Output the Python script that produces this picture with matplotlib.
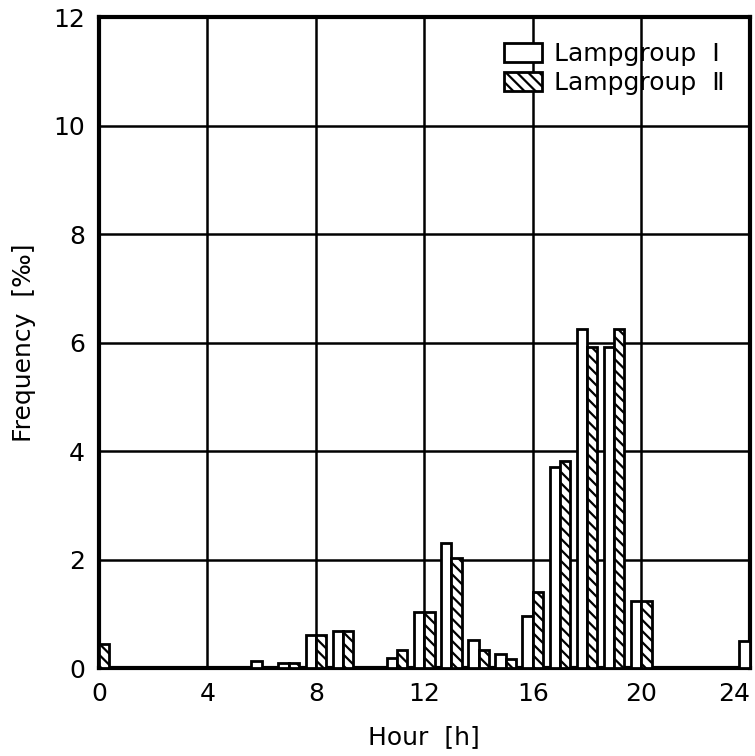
import matplotlib
matplotlib.use('Agg')
import matplotlib.pyplot as plt
import numpy as np

plt.rcParams['font.family'] = ['DejaVu Sans']
plt.rcParams['hatch.linewidth'] = 1.6

# stunden (0..24, 24 = wrap of 0)
horas_g1 = [6, 7, 8, 9, 11, 12, 13, 14, 15, 16, 17, 18, 19, 20, 24]
valores_g1 = [0.13, 0.1, 0.6, 0.68, 0.18, 1.03, 2.3, 0.52, 0.25, 0.95, 3.7, 6.25, 5.92, 1.24, 0.5]

horas_g2 = [0, 7, 8, 9, 11, 12, 13, 14, 15, 16, 17, 18, 19, 20]
valores_g2 = [0.45, 0.1, 0.6, 0.68, 0.33, 1.03, 2.03, 0.33, 0.17, 1.4, 3.82, 5.92, 6.25, 1.24]

largura = 0.38

fig = plt.figure(figsize=(7.55, 7.56), dpi=100)
ax = fig.add_axes([0.131, 0.1164, 0.862, 0.861])

ax.bar(np.array(horas_g1) - largura, valores_g1, width=largura, align='edge',
       color='white', edgecolor='black', linewidth=2, label='Lampgroup  Ⅰ', zorder=3)
ax.bar(np.array(horas_g2), valores_g2, width=largura, align='edge',
       color='white', edgecolor='black', linewidth=2, hatch='\\\\\\', label='Lampgroup  Ⅱ', zorder=3)

ax.set_xlim(0, 24)
ax.set_ylim(0, 12)
ax.set_xticks(range(0, 25, 4))
ax.set_yticks(range(0, 13, 2))
ax.grid(True, color='black', linewidth=1.8)
ax.set_axisbelow(True)
for s in ax.spines.values():
    s.set_linewidth(3)
ax.tick_params(length=0, labelsize=18, pad=10)
ax.get_xticklabels()[-1].set_horizontalalignment('right')

ax.set_xlabel('Hour  [h]', fontsize=18, labelpad=14)
ax.set_ylabel('Frequency  [‰]', fontsize=18, labelpad=12)

leg = ax.legend(loc='upper right', frameon=False, fontsize=18, handlelength=1.5,
                handleheight=0.8, handletextpad=0.5, borderaxespad=0.6, labelspacing=0.2)

fig.savefig('out.png', dpi=100)
